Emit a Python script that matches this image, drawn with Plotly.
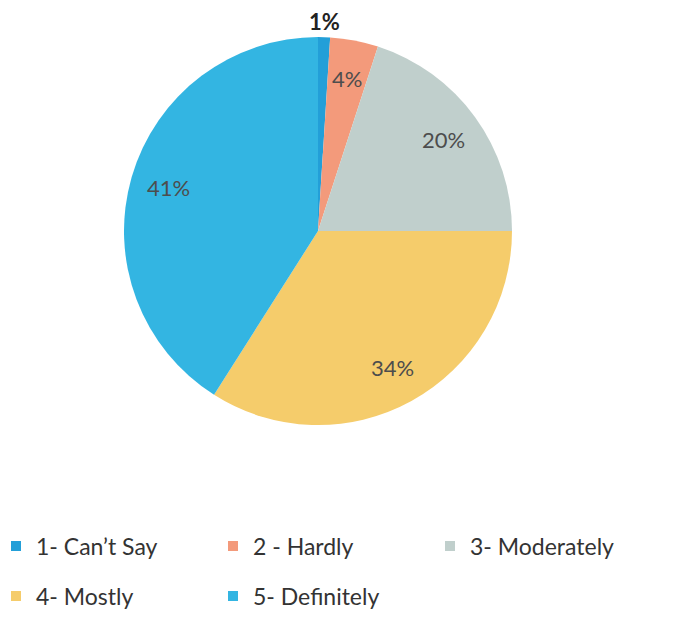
import math
import plotly.graph_objects as go

# Survey answers
labels = ["1- Can\u2019t Say", "2 - Hardly", "3- Moderately", "4- Mostly", "5- Definitely"]
values = [1, 4, 20, 34, 41]
colors = ["#239fd8", "#f39a7b", "#c0cfcc", "#f5cc6b", "#33b5e2"]

# page has an 8px body margin, so the figure is a bit smaller than the window
PAD = 8
W, H = 677 - 2 * PAD, 618 - 2 * PAD
cx, cy, r = 318 - PAD, 231 - PAD, 194
FONT = "Lato, Open Sans, sans-serif"

fig = go.Figure()

fig.add_trace(go.Pie(
    labels=labels,
    values=values,
    sort=False,
    direction="clockwise",
    rotation=0,
    marker=dict(colors=colors, line=dict(width=0)),
    textinfo="none",
    domain=dict(x=[(cx - r) / W, (cx + r) / W], y=[1 - (cy + r) / H, 1 - (cy - r) / H]),
    showlegend=False,
    hovertemplate="%{label}: %{percent}<extra></extra>",
))

# legend: two rows like the original, one legend per row
for i, (lab, col) in enumerate(zip(labels, colors)):
    fig.add_trace(go.Scatter(
        x=[None], y=[None], mode="markers", name=lab,
        marker=dict(symbol="square", size=10, color=col),
        legend="legend" if i < 3 else "legend2",
        hoverinfo="skip",
    ))

# percent labels, placed on the mid angle of each slice (Excel style)
total = sum(values)
cum = 0
for i, v in enumerate(values):
    mid = (cum + v / 2) / total * 2 * math.pi
    cum += v
    pct = round(v / total * 100)
    outside = pct < 2
    k = 1.08 if outside else 0.8
    px_ = cx + k * r * math.sin(mid)
    py_ = cy - k * r * math.cos(mid)
    fig.add_annotation(
        x=px_ / W, y=1 - py_ / H, xref="paper", yref="paper",
        xanchor="center", yanchor="middle",
        text=f"<b>{pct}%</b>" if outside else f"{pct}%",
        showarrow=False,
        font=dict(family=FONT, size=22, color="#222222" if outside else "#4d4d4d"),
    )

leg = dict(
    orientation="h",
    x=0,
    xanchor="left",
    yanchor="middle",
    indentation=-12,
    entrywidth=184,
    entrywidthmode="pixels",
    font=dict(family=FONT, size=23, color="#333333"),
    itemwidth=30,
    bgcolor="rgba(0,0,0,0)",
)

fig.update_layout(
    width=W,
    height=H,
    margin=dict(l=0, r=0, t=0, b=0, autoexpand=False),
    paper_bgcolor="white",
    plot_bgcolor="white",
    xaxis=dict(visible=False),
    yaxis=dict(visible=False),
    legend=dict(leg, y=1 - (546 - PAD) / H),
    legend2=dict(leg, y=1 - (596 - PAD) / H),
)

fig.write_html("out.html")
